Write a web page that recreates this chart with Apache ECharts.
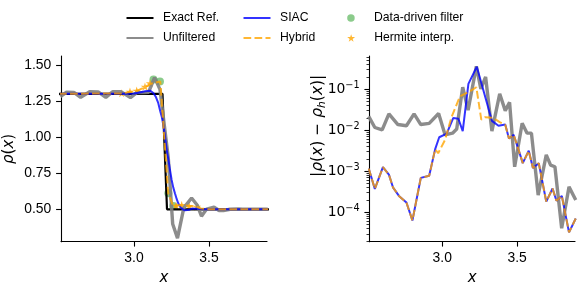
<!DOCTYPE html>
<html><head><meta charset="utf-8">
<script src="https://cdn.jsdelivr.net/npm/echarts@6/dist/echarts.min.js"></script>
<style>html,body{margin:0;padding:0;background:#fff}#c{width:581px;height:289px}</style>
</head><body><div id="c"></div>
<script>
// ---------- data ----------
const xTicks = [3.0, 3.5];
const rhoTicks = [0.5, 0.75, 1.0, 1.25, 1.5];
const errTicks = [1e-4, 1e-3, 1e-2, 1e-1];
const errMinorTicks = [2e-5,3e-5,4e-5,5e-5,6e-5,7e-5,8e-5,9e-5,
  2e-4,3e-4,4e-4,5e-4,6e-4,7e-4,8e-4,9e-4,
  2e-3,3e-3,4e-3,5e-3,6e-3,7e-3,8e-3,9e-3,
  2e-2,3e-2,4e-2,5e-2,6e-2,7e-2,8e-2,9e-2,
  2e-1,3e-1,4e-1,5e-1,6e-1];

// left panel: rho(x)
const exactX = [2.50, 3.19, 3.22, 3.90];
const exactY = [1.30, 1.30, 0.50, 0.50];

const unfX = [2.509,2.550,2.599,2.644,2.704,2.761,2.812,2.857,2.913,2.976,3.019,3.069,3.097,3.137,3.173,3.228,3.258,3.290,3.332,3.384,3.421,3.450,3.484,3.534,3.567,3.596,3.641,3.695,3.724,3.753,3.798,3.847,3.892];
const unfY = [1.280,1.312,1.310,1.275,1.314,1.313,1.275,1.314,1.315,1.274,1.308,1.3085,1.311,1.412,1.331,0.863,0.398,0.300,0.5095,0.578,0.530,0.452,0.5013,0.515,0.4915,0.4915,0.5003,0.5025,0.5014,0.5013,0.5000,0.5004,0.5002];

const siacX = [2.50,2.95,3.00,3.03,3.074,3.107,3.129,3.145,3.162,3.175,3.185,3.197,3.207,3.22,3.231,3.24,3.251,3.262,3.273,3.285,3.295,3.31,3.325,3.34,3.351,3.37,3.385,3.42,3.47,3.90];
const siacY = [1.300,1.300,1.302,1.308,1.318,1.322,1.306,1.280,1.235,1.180,1.142,1.075,1.003,0.900,0.835,0.772,0.703,0.650,0.611,0.570,0.542,0.515,0.500,0.493,0.492,0.497,0.505,0.503,0.500,0.500];

const hybX = [2.50,2.918,2.973,3.018,3.07,3.113,3.175,3.228,3.262,3.287,3.341,3.384,3.421,3.446,3.50,3.90];
const hybY = [1.300,1.303,1.312,1.320,1.345,1.370,1.386,0.612,0.522,0.528,0.527,0.522,0.516,0.506,0.500,0.500];

const ddfX = [3.130, 3.173, 3.229, 3.262];
const ddfY = [1.400, 1.385, 0.611, 0.523];

const hermX = [2.918, 2.973, 3.018, 3.073, 3.107, 3.280, 3.318, 3.368, 3.420];
const hermY = [1.304, 1.315, 1.322, 1.350, 1.373, 0.525, 0.530, 0.523, 0.518];

// right panel: |rho - rho_h|
const errUnfX = unfX;
const errUnfY = [2.19e-2,1.17e-2,1.02e-2,2.51e-2,1.38e-2,1.29e-2,2.51e-2,1.38e-2,1.48e-2,2.57e-2,7.76e-3,8.51e-3,1.07e-2,1.12e-1,3.09e-2,3.63e-1,1.02e-1,2.00e-1,9.55e-3,7.76e-2,3.02e-2,4.79e-2,1.29e-3,1.48e-2,8.51e-3,8.51e-3,2.63e-4,2.51e-3,1.41e-3,1.29e-3,4.07e-5,4.17e-4,2.00e-4];

const errSiacX = [2.509,2.550,2.604,2.644,2.671,2.711,2.761,2.801,2.857,2.913,2.953,2.980,3.030,3.074,3.108,3.137,3.175,3.231,3.332,3.376,3.421,3.446,3.477,3.507,3.538,3.578,3.606,3.645,3.695,3.737,3.763,3.799,3.847,3.892];
const errSiacY = [1.17e-3,3.72e-4,1.26e-3,8.32e-4,4.07e-4,2.51e-4,1.74e-4,6.31e-5,6.92e-4,7.76e-4,3.47e-3,6.76e-3,8.32e-3,2.00e-2,1.91e-2,9.55e-3,1.35e-1,3.55e-1,1.70e-2,1.29e-2,1.38e-2,6.31e-3,7.76e-3,3.63e-3,1.58e-3,3.16e-3,1.20e-3,1.58e-3,1.82e-4,3.80e-4,1.91e-4,2.51e-4,3.24e-5,7.08e-5];

const errHybX = [2.509,2.550,2.604,2.644,2.671,2.711,2.761,2.801,2.857,2.913,2.953,2.973,3.018,3.063,3.119,3.175,3.228,3.261,3.287,3.341,3.384,3.421,3.446,3.477,3.507,3.538,3.578,3.606,3.645,3.695,3.737,3.763,3.799,3.847,3.892];
const errHybY = [1.17e-3,3.72e-4,1.26e-3,8.32e-4,4.07e-4,2.51e-4,1.74e-4,6.31e-5,6.92e-4,7.76e-4,3.47e-3,2.75e-3,5.75e-3,2.14e-2,6.76e-2,8.51e-2,1.12e-1,1.82e-2,2.09e-2,2.00e-2,1.58e-2,1.35e-2,6.31e-3,7.76e-3,3.63e-3,1.58e-3,3.16e-3,1.20e-3,1.58e-3,1.82e-4,3.80e-4,1.91e-4,2.51e-4,3.24e-5,7.08e-5];

// ---------- chart ----------
const zip = (xs, ys) => xs.map((x, i) => [x, ys[i]]);
const SANS = 'Liberation Sans, Arial, sans-serif';
const MATH = 'DejaVu Sans, sans-serif';
const lineCol = {color: '#000', width: 1.1};
const STAR = 'path://M50,0 L61.2,34.5 97.6,34.5 68.2,55.9 79.4,90.5 50,69.1 20.6,90.5 31.8,55.9 2.4,34.5 38.8,34.5 Z';
const supMap = {'-5':'−5','-4':'−4','-3':'−3','-2':'−2','-1':'−1'};

function xAxis(gi) {
  return {
    type: 'value', gridIndex: gi, min: 2.513, max: 3.887,
    axisLine: {onZero: false, lineStyle: lineCol},
    axisTick: {customValues: xTicks, length: 4.9, lineStyle: lineCol},
    axisLabel: {customValues: xTicks, formatter: v => v.toFixed(1), margin: 9.7,
      fontFamily: SANS, fontSize: 13.9, color: '#000'},
    splitLine: {show: false},
    name: 'x', nameLocation: 'middle', nameGap: 29, nameMoveOverlap: false,
    nameTextStyle: {fontStyle: 'italic', fontFamily: MATH, fontSize: 15, color: '#000'}
  };
}

const legBase = {
  orient: 'horizontal', padding: 0, itemGap: 0, itemWidth: 27, itemHeight: 12,
  selectedMode: false,
  textStyle: {fontFamily: SANS, fontSize: 12.2, color: '#000', padding: [0, 0, 0, 4.5]}
};
const lineLeg = {itemStyle: {opacity: 0, borderWidth: 0}};

const option = {
  animation: false,
  backgroundColor: '#fff',
  grid: [
    {left: 61, top: 56, width: 206, height: 185.7, containLabel: false, outerBoundsMode: 'none'},
    {left: 369.3, top: 56, width: 205.7, height: 185.7, containLabel: false, outerBoundsMode: 'none'}
  ],
  legend: [
    Object.assign({}, legBase, lineLeg, {data: ['Exact Ref.'], left: 125.5, top: 12}),
    Object.assign({}, legBase, lineLeg, {data: ['Unfiltered'], left: 125.5, top: 32}),
    Object.assign({}, legBase, lineLeg, {data: ['SIAC'], left: 242.5, top: 12}),
    Object.assign({}, legBase, lineLeg, {data: ['Hybrid'], left: 242.5, top: 32}),
    Object.assign({}, legBase, {data: ['Data-driven filter'], left: 347.2, top: 12, itemHeight: 7.5}),
    Object.assign({}, legBase, {data: ['Hermite interp.'], left: 347.2, top: 32, itemHeight: 7.5})
  ],
  xAxis: [xAxis(0), xAxis(1)],
  yAxis: [
    {
      type: 'value', gridIndex: 0, min: 0.2755, max: 1.562,
      axisLine: {show: true, onZero: false, lineStyle: lineCol},
      axisTick: {show: true, customValues: rhoTicks, length: 4.9, lineStyle: lineCol},
      axisLabel: {customValues: rhoTicks, formatter: v => v.toFixed(2), margin: 9.7,
        fontFamily: SANS, fontSize: 13.9, color: '#000'},
      splitLine: {show: false},
      name: '{i|ρ}({i|x})', nameLocation: 'middle', nameGap: 43, nameMoveOverlap: false,
      nameTextStyle: {fontFamily: MATH, fontSize: 15, color: '#000', lineHeight: 18,
        rich: {i: {fontFamily: MATH, fontStyle: 'italic', fontSize: 15, lineHeight: 18, color: '#000'}}}
    },
    {
      type: 'log', logBase: 10, gridIndex: 1, min: 1.92e-5, max: 0.648,
      axisLine: {show: true, onZero: false, lineStyle: lineCol},
      axisTick: {show: true, customValues: errTicks, length: 4.9, lineStyle: lineCol},
      axisLabel: {customValues: errTicks, margin: 9.7,
        formatter: v => '10{s|' + supMap[String(Math.round(Math.log10(v)))] + '}',
        fontFamily: MATH, fontSize: 13.9, lineHeight: 18, color: '#000',
        rich: {s: {fontFamily: MATH, fontSize: 9.7, lineHeight: 9, verticalAlign: 'top', color: '#000'}}},
      splitLine: {show: false},
      name: '|{i|ρ}({i|x}) − {i|ρ}{s|h}({i|x})|', nameLocation: 'middle', nameGap: 42, nameMoveOverlap: false,
      nameTextStyle: {fontFamily: MATH, fontSize: 15.5, color: '#000', lineHeight: 18, padding: [0, 0, 0, 46],
        rich: {
          i: {fontFamily: MATH, fontStyle: 'italic', fontSize: 15.5, lineHeight: 18, color: '#000'},
          s: {fontFamily: MATH, fontStyle: 'italic', fontSize: 10.8, lineHeight: 10, verticalAlign: 'bottom', color: '#000'}
        }}
    },
    {
      type: 'log', logBase: 10, gridIndex: 1, min: 1.92e-5, max: 0.648, position: 'left',
      axisLine: {show: false},
      axisTick: {show: true, customValues: errMinorTicks, length: 2.8, lineStyle: {color: '#000', width: 0.8}},
      axisLabel: {show: false},
      splitLine: {show: false}
    }
  ],
  series: [
    {name: 'Exact Ref.', type: 'line', xAxisIndex: 0, yAxisIndex: 0, data: zip(exactX, exactY),
      symbol: 'none', lineStyle: {color: '#000', width: 2.2}, itemStyle: {color: '#000'}},
    {name: 'Unfiltered', type: 'line', xAxisIndex: 0, yAxisIndex: 0, data: zip(unfX, unfY),
      symbol: 'none', lineStyle: {color: '#808080', width: 3.4, opacity: 0.9}, itemStyle: {color: '#808080'}},
    {name: 'SIAC', type: 'line', xAxisIndex: 0, yAxisIndex: 0, data: zip(siacX, siacY),
      symbol: 'none', lineStyle: {color: '#0000ff', width: 2, opacity: 0.8}, itemStyle: {color: '#0000ff'}},
    {name: 'Hybrid', type: 'line', xAxisIndex: 0, yAxisIndex: 0, data: zip(hybX, hybY),
      symbol: 'none', lineStyle: {color: '#ffa500', width: 2, opacity: 0.8, type: [7.7, 3.3]}, itemStyle: {color: '#ffa500'}},
    {name: 'Data-driven filter', type: 'scatter', xAxisIndex: 0, yAxisIndex: 0, data: zip(ddfX, ddfY),
      symbol: 'circle', symbolSize: 8, itemStyle: {color: '#2ca02c', opacity: 0.55}},
    {name: 'Hermite interp.', type: 'scatter', xAxisIndex: 0, yAxisIndex: 0, data: zip(hermX, hermY),
      symbol: STAR, symbolKeepAspect: true, symbolSize: 8.5, itemStyle: {color: '#ffa500', opacity: 0.8}},

    {name: 'Unfiltered', type: 'line', xAxisIndex: 1, yAxisIndex: 1, data: zip(errUnfX, errUnfY),
      symbol: 'none', lineStyle: {color: '#808080', width: 3.4, opacity: 0.9}},
    {name: 'SIAC', type: 'line', xAxisIndex: 1, yAxisIndex: 1, data: zip(errSiacX, errSiacY),
      symbol: 'none', lineStyle: {color: '#0000ff', width: 2, opacity: 0.8}},
    {name: 'Hybrid', type: 'line', xAxisIndex: 1, yAxisIndex: 1, data: zip(errHybX, errHybY),
      symbol: 'none', lineStyle: {color: '#ffa500', width: 2, opacity: 0.8, type: [7.7, 3.3]}}
  ]
};

const chart = echarts.init(document.getElementById('c'), null, {renderer: 'canvas'});
chart.setOption(option);
</script>
</body></html>
